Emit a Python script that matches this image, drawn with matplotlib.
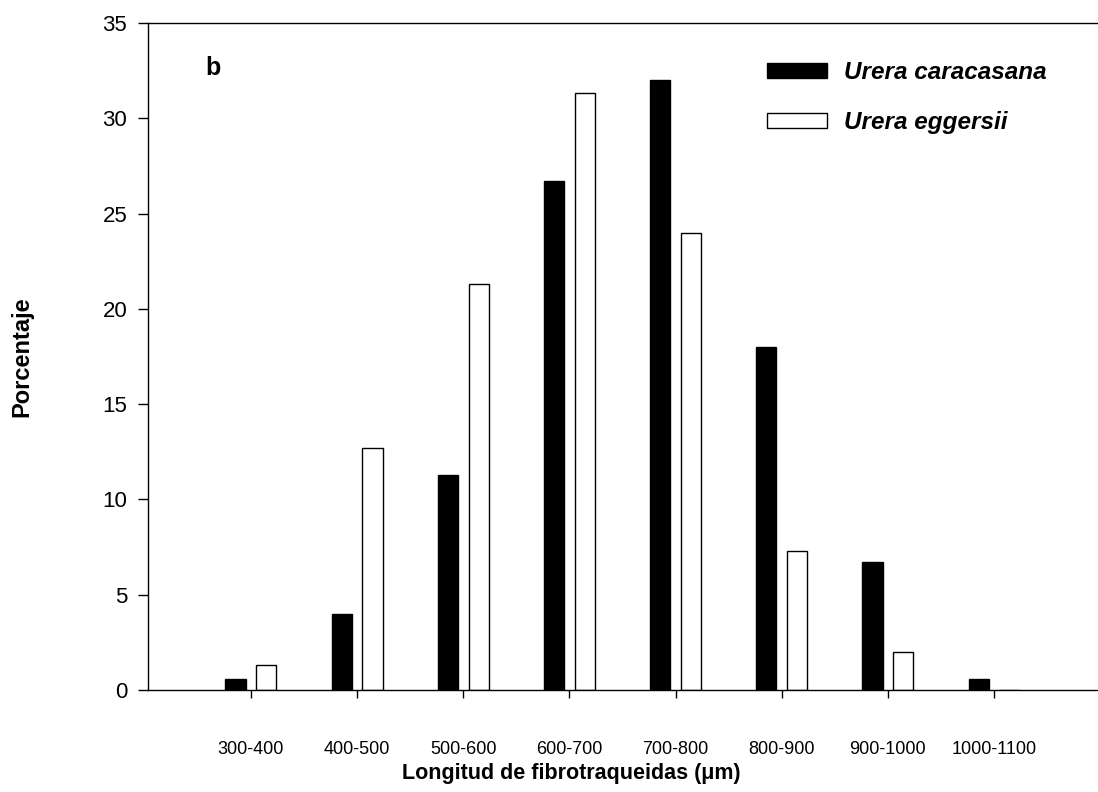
import matplotlib
matplotlib.use("Agg")
import matplotlib.pyplot as plt
import numpy as np

plt.rcParams['font.family'] = ['Liberation Sans', 'DejaVu Sans']

categories = ['300-400', '400-500', '500-600', '600-700', '700-800',
              '800-900', '900-1000', '1000-1100']
caracasana = [0.6, 4.0, 11.3, 26.7, 32.0, 18.0, 6.7, 0.6]
eggersii = [1.3, 12.7, 21.3, 31.3, 24.0, 7.3, 2.0, 0.0]
y_ticks = [0, 5, 10, 15, 20, 25, 30, 35]

fig = plt.figure(figsize=(10.98, 7.92), dpi=100)
ax = fig.add_axes([0.1348, 0.1288, 0.8652, 0.8422])

x = np.arange(len(categories))
w = 0.19
off = 0.145
ax.bar(x - off, caracasana, w, color='black', edgecolor='black', linewidth=1.0,
       label='Urera caracasana')
ax.bar(x + off, eggersii, w, color='white', edgecolor='black', linewidth=1.0,
       label='Urera eggersii')

ax.set_xlim(-0.97, 7.98)
ax.set_ylim(0, 35)
ax.set_xticks(x)
ax.set_xticklabels(categories, fontsize=13)
ax.set_yticks(y_ticks)
ax.set_yticklabels([str(v) for v in y_ticks], fontsize=16)

ax.tick_params(axis='y', direction='out', length=7, width=1.0, pad=8)
ax.tick_params(axis='x', direction='out', length=6, width=1.0, pad=31)

ax.spines['right'].set_visible(False)
for s in ['top', 'bottom', 'left']:
    ax.spines[s].set_linewidth(1.0)

ax.set_ylabel('Porcentaje', fontsize=17, fontweight='bold')
ax.yaxis.set_label_coords(-0.121, 0.5)
ax.text(0.4455, -0.1245, u'Longitud de fibrotraqueidas (\u03bcm)', transform=ax.transAxes,
        ha='center', va='center', fontsize=15.5, fontweight='bold')

ax.text(0.068, 0.9325, 'b', transform=ax.transAxes, ha='center', va='center',
        fontsize=18, fontweight='bold')

leg = ax.legend(loc='upper left', bbox_to_anchor=(0.652, 0.9425), frameon=False,
                prop={'style': 'italic', 'weight': 'bold', 'size': 17.5},
                handlelength=2.45, handleheight=0.55, handletextpad=0.7,
                labelspacing=1.1, borderpad=0, borderaxespad=0)

fig.savefig('out.png', dpi=100)
